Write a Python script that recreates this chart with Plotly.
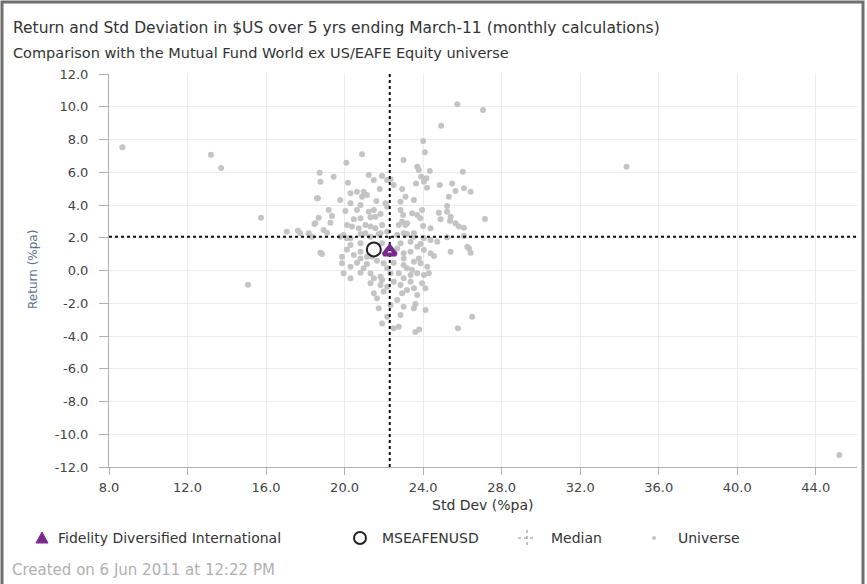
import plotly.graph_objects as go

# Peer-group universe: (std dev %pa, return %pa)
universe_sd = [
    25.74, 27.05, 24.92, 24.0, 24.09, 20.89, 23.0, 20.09, 23.7, 23.78, 24.34, 26.02,
    18.73, 19.44, 21.23, 21.91, 22.17, 22.34, 21.49, 23.9, 24.17, 24.04, 18.77, 20.17,
    23.64, 24.85, 25.48, 22.5, 22.93, 24.2, 21.79, 26.08, 25.65, 26.42, 20.3, 20.63,
    20.97, 21.14, 20.89, 18.64, 19.78, 23.1, 23.53, 25.31, 21.62, 22.08, 22.85, 20.3,
    20.81, 25.22, 19.19, 20.04, 20.63, 21.23, 21.49, 21.83, 21.32, 21.57, 22.17, 22.85,
    22.98, 23.18, 23.44, 23.7, 23.95, 24.8, 25.22, 15.74, 18.68, 19.36, 20.47, 20.81,
    22.93, 22.76, 23.1, 23.86, 24.0, 24.89, 25.4, 25.37, 25.65, 25.82, 26.08, 27.15,
    18.5, 19.28, 20.12, 20.38, 20.72, 21.06, 21.32, 21.57, 21.91, 17.06, 17.62, 18.17,
    18.93, 24.38, 26.25, 21.06, 21.83, 22.17, 23.01, 23.53, 19.78, 20.12,
    8.68, 13.19, 13.71, 18.34, 15.08, 18.47, 18.59, 18.77,
    34.36, 45.2,
    18.85, 20.12, 20.47, 20.81, 22.68, 23.01, 23.36, 23.7, 24.04, 24.38, 24.55, 25.4,
    26.34, 26.42, 19.87, 20.3, 20.63, 21.14, 21.65, 21.99, 22.5, 23.01, 23.53, 23.87,
    24.21, 19.95, 20.3, 20.81, 21.32, 21.49, 21.83, 22.34, 22.76, 23.01, 23.36, 23.7,
    24.04, 24.29, 21.32, 21.83, 22.17, 22.85, 23.18, 23.53, 24.12, 21.49, 21.65, 22.68,
    23.61, 23.53, 21.74, 24.12, 22.85, 26.5, 21.91, 22.5, 22.76, 25.77,
    17.74, 19.1, 19.95, 20.3, 20.81, 21.32, 21.74, 22.68, 23.18, 23.53, 24.04, 24.38,
    24.72, 25.22, 26.08, 20.3, 20.81, 21.91, 22.85, 23.36, 23.87, 19.87, 20.81, 21.14,
    21.4, 23.01, 23.78, 20.97, 22.17, 23.18, 23.44, 21.91, 22.5, 23.36, 23.95, 21.99,
    22.93, 23.7, 22.34, 23.01, 22.17, 23.6, 23.8,
]
universe_ret = [
    10.15, 9.80, 8.84, 7.91, 7.22, 7.10, 6.75, 6.58, 6.34, 6.14, 6.08, 6.03,
    5.97, 5.73, 5.83, 5.77, 5.53, 5.57, 5.53, 5.73, 5.63, 5.42, 5.42, 5.36,
    5.32, 5.22, 5.32, 5.22, 4.98, 5.06, 4.98, 5.02, 4.85, 4.81, 4.71, 4.81,
    4.81, 4.61, 4.51, 4.41, 4.31, 4.51, 4.31, 4.51, 4.24, 4.10, 4.20, 4.10,
    4.0, 3.94, 3.69, 3.63, 3.69, 3.59, 3.69, 3.45, 3.25, 3.29, 3.90, 3.69,
    3.39, 2.88, 3.49, 3.39, 3.69, 3.53, 3.59, 3.22, 3.22, 3.33, 3.13, 3.19,
    2.98, 2.78, 2.78, 3.19, 2.72, 3.13, 3.29, 3.04, 2.88, 2.68, 2.61, 3.14,
    2.88, 2.92, 2.78, 2.68, 2.58, 2.78, 2.68, 2.58, 2.78, 2.37, 2.43, 2.27,
    2.47, 2.58, 1.45, 2.27, 2.27, 2.37, 2.27, 2.27, 2.06, 1.97,
    7.52, 7.07, 6.26, 2.06, -0.87, 2.84, 4.41, 1.09,
    6.34, -11.27,
    1.01, 1.29, 0.95, 1.15, 1.35, 1.05, 1.15, 1.45, 1.25, 1.05, 0.89, 1.15,
    1.35, 1.09, 0.44, 0.23, 0.48, 0.40, 0.60, 0.44, 0.48, 0.34, 0.54, 0.44,
    0.23, -0.17, -0.48, -0.13, -0.17, -0.48, -0.38, -0.17, -0.17, -0.48, -0.27, -0.17,
    -0.27, -0.17, -0.78, -0.89, -0.99, -0.89, -1.19, -1.09, -1.09, -1.39, -1.70, -1.80,
    -2.05, -2.31, -2.31, -2.41, -2.72, -2.82, -3.23, -3.53, -3.43, -3.53,
    2.27, 2.31, 2.17, 1.97, 2.23, 2.06, 2.23, 2.17, 2.23, 2.06, 1.97, 1.86,
    1.76, 2.03, 2.11, 1.56, 1.66, 1.66, 1.66, 1.76, 1.62, 0.84, 0.74, 0.84,
    0.84, 0.74, 0.74, 0.13, 0.13, 0.13, 0.03, -0.58, -0.68, -0.68, -0.78, -1.29,
    -1.39, -1.50, -2.11, -2.21, -2.82, -3.75, -3.6,
]

fund_name = "Fidelity Diversified International"
fund_sd = [22.3]
fund_ret = [1.15]

index_name = "MSEAFENUSD"
index_sd = [21.49]
index_ret = [1.29]

median_sd = 22.3
median_ret = 2.06

x_range = [8.0, 46.1]
y_range = [-12.0, 12.0]
x_ticks = [8, 12, 16, 20, 24, 28, 32, 36, 40, 44]
y_ticks = [12, 10, 8, 6, 4, 2, 0, -2, -4, -6, -8, -10, -12]

title_text = "Return and Std Deviation in $US over 5 yrs ending March-11 (monthly calculations)"
subtitle_text = "Comparison with the Mutual Fund World ex US/EAFE Equity universe"
footer_text = "Created on 6 Jun 2011 at 12:22 PM"

W, H = 867, 584
ML, MR, MT, MB = 109, 10, 74, 117
PW, PH = W - ML - MR, H - MT - MB
FONT = "DejaVu Sans"
PURPLE = "#7a2a8e"
DOT = "#c4c4c4"
TEXT = "#333333"


def px(xp):
    return (xp - ML) / PW


def py(yp):
    return (H - MB - yp) / PH


fig = go.Figure()

fig.add_trace(go.Scatter(
    x=universe_sd, y=universe_ret, mode="markers",
    marker=dict(color=DOT, size=6, line=dict(width=0)),
    name="Universe", showlegend=False, hoverinfo="x+y"))

fig.add_trace(go.Scatter(
    x=[median_sd, median_sd], y=y_range, mode="lines",
    line=dict(color="#111111", width=2, dash="dot"),
    showlegend=False, hoverinfo="skip"))
fig.add_trace(go.Scatter(
    x=x_range, y=[median_ret, median_ret], mode="lines",
    line=dict(color="#111111", width=2, dash="dot"),
    showlegend=False, hoverinfo="skip"))

fig.add_trace(go.Scatter(
    x=index_sd, y=index_ret, mode="markers",
    marker=dict(symbol="circle", size=14, color="white",
                line=dict(color="#222222", width=2)),
    name=index_name, showlegend=False))
fig.add_trace(go.Scatter(
    x=fund_sd, y=fund_ret, mode="markers",
    marker=dict(symbol="triangle-up-open", size=11, color=PURPLE,
                line=dict(color=PURPLE, width=4)),
    name=fund_name, showlegend=False))

axis_common = dict(
    showgrid=True, gridcolor="#ebebeb", gridwidth=1,
    showline=True, linecolor="#b0b0b0", linewidth=1,
    ticks="outside", tickcolor="#b0b0b0",
    tickfont=dict(family=FONT, size=13, color="#444444"),
    zeroline=False, fixedrange=True,
)

fig.update_xaxes(range=x_range, tickvals=x_ticks, ticklen=7, ticklabelstandoff=1,
                 ticktext=[f"{v:.1f}" for v in x_ticks], **axis_common)
fig.update_yaxes(range=y_range, tickvals=y_ticks, ticklen=9, ticklabelstandoff=8,
                 ticktext=[f"{v:.1f}" for v in y_ticks], **axis_common)

shapes = []
# zero return line
shapes.append(dict(type="line", xref="paper", yref="y", x0=0, x1=1, y0=0, y1=0,
                   line=dict(color="#a8a8a8", width=1), layer="below"))
# outer frame
shapes.append(dict(type="rect", xref="paper", yref="paper",
                   x0=px(2), x1=px(863), y0=py(2), y1=py(600),
                   line=dict(color="#707070", width=3)))

# legend icons
ly = 538
tri = 6
tx = 42
shapes.append(dict(type="path", xref="paper", yref="paper",
                   path=(f"M {px(tx - tri)} {py(ly + 5)} L {px(tx + tri)} {py(ly + 5)} "
                         f"L {px(tx)} {py(ly - 6)} Z"),
                   fillcolor=PURPLE, line=dict(color=PURPLE, width=1)))
cx = 360
shapes.append(dict(type="circle", xref="paper", yref="paper",
                   x0=px(cx - 6), x1=px(cx + 6), y0=py(ly - 6), y1=py(ly + 6),
                   line=dict(color="#222222", width=2), fillcolor="white"))
mx = 527
shapes.append(dict(type="line", xref="paper", yref="paper",
                   x0=px(mx - 9), x1=px(mx + 9), y0=py(ly), y1=py(ly),
                   line=dict(color="#888888", width=1, dash="dot")))
shapes.append(dict(type="line", xref="paper", yref="paper",
                   x0=px(mx), x1=px(mx), y0=py(ly - 8), y1=py(ly + 8),
                   line=dict(color="#888888", width=1, dash="dot")))
ux = 654
shapes.append(dict(type="circle", xref="paper", yref="paper",
                   x0=px(ux - 2), x1=px(ux + 2), y0=py(ly - 2), y1=py(ly + 2),
                   line=dict(color=DOT, width=0), fillcolor=DOT))


def label(text, x, y, size, color, anchor="left", angle=0):
    return dict(text=text, xref="paper", yref="paper", x=px(x), y=py(y),
                xanchor=anchor, yanchor="middle", showarrow=False, textangle=angle,
                font=dict(family=FONT, size=size, color=color))


annotations = [
    label(title_text, 11, 28, 15.5, TEXT),
    label(subtitle_text, 11, 53, 14.5, TEXT),
    label("Std Dev (%pa)", 483, 505, 14, TEXT, anchor="center"),
    label("Return (%pa)", 33, 270, 12, "#5a7391", anchor="center", angle=-90),
    label(fund_name, 56, ly, 14, TEXT),
    label(index_name, 380, ly, 14, TEXT),
    label("Median", 549, ly, 14, TEXT),
    label("Universe", 676, ly, 14, TEXT),
    label(footer_text, 10, 570, 15, "#b0b0b0"),
]

fig.update_layout(
    width=W, height=H,
    margin=dict(l=ML, r=MR, t=MT, b=MB, pad=0),
    paper_bgcolor="white", plot_bgcolor="white",
    showlegend=False,
    shapes=shapes, annotations=annotations,
    font=dict(family=FONT),
)

fig.write_html("out.html")
